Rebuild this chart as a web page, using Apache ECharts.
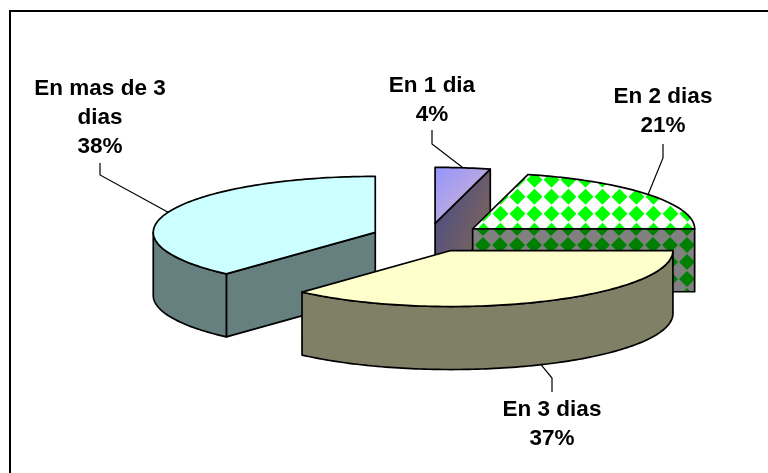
<!DOCTYPE html>
<html>
<head>
<meta charset="utf-8">
<style>html,body{margin:0;padding:0;background:#fff}#c{width:768px;height:473px}</style>
<script src="https://cdn.jsdelivr.net/npm/echarts@6/dist/echarts.min.js"></script>
</head>
<body>
<div id="c"></div>
<script>
var categories = ['En 1 dia', 'En 2 dias', 'En 3 dias', 'En mas de 3\ndias'];
var values = [4, 21, 36.7, 38.3];

// Layout of the 3D pie, separate from the data
var CX = 428, CY = 237.5, RX = 222, RY = 56, DEPTH = 63, EXPLODE = 56.5;
var FONT = 'bold 22.5px "Liberation Sans", Arial, sans-serif';
var LABEL_LINE = 29;
var labelCenters = [[432, 100], [663, 111], [552, 424.5], [100, 118]];
var leaderElbows = [[[432, 144], [432, 130]], [[663, 158], [663, 144]], [[552, 378], [552, 392]], [[100, 175], [100, 163]]];

function tile(bg, fg) {
  var S = 17, c = document.createElement('canvas');
  c.width = S; c.height = S;
  var g = c.getContext('2d');
  g.fillStyle = bg; g.fillRect(0, 0, S, S);
  g.fillStyle = fg;
  var ox = 7.5, oy = 9.7, d = 8;
  if (fg === '#008000') { oy = 7; ox = 7; }
  [[0,0],[-S,0],[0,-S],[S,0],[0,S]].forEach(function (o) {
    var x = ox + o[0], y = oy + o[1];
    g.beginPath(); g.moveTo(x - d, y); g.lineTo(x, y - d); g.lineTo(x + d, y); g.lineTo(x, y + d); g.closePath(); g.fill();
  });
  return c;
}
var topFills = [
  { type: 'linear', x: 0, y: 0, x2: 1, y2: 1, colorStops: [{ offset: 0, color: '#9494ff' }, { offset: 1, color: '#d6b8c8' }] },
  { image: tile('#ffffff', '#00ff00'), repeat: 'repeat' },
  '#ffffcc',
  '#ccffff'
];
var wallFills = [
  { type: 'linear', x: 0, y: 0.4, x2: 1, y2: 0.6, colorStops: [{ offset: 0, color: '#4f4f80' }, { offset: 1, color: '#80665a' }] },
  { image: tile('#808080', '#008000'), repeat: 'repeat' },
  '#808066',
  '#668080'
];

var total = values.reduce(function (a, b) { return a + b; }, 0);

function renderItem(params, api) {
  var i = params.dataIndex, before = 0;
  for (var k = 0; k < i; k++) before += values[k];
  var t1 = before / total * 2 * Math.PI;
  var t2 = (before + api.value(0)) / total * 2 * Math.PI;
  var mid = (t1 + t2) / 2;
  var ax = CX + EXPLODE * Math.sin(mid), ay = CY - EXPLODE * RY / RX * Math.cos(mid);
  function pt(t, dz) { return [ax + RX * Math.sin(t), ay - RY * Math.cos(t) + (dz || 0)]; }
  function arc(a, b, dz) {
    var out = [], n = Math.max(2, Math.ceil((b - a) / 0.02));
    for (var j = 0; j <= n; j++) out.push(pt(a + (b - a) * j / n, dz));
    return out;
  }
  var z = Math.round(ay);
  var kids = [];
  function poly(points, fill, zz) {
    kids.push({ type: 'polygon', shape: { points: points }, z2: zz,
      style: { fill: fill, stroke: '#000', lineWidth: 1.7, lineJoin: 'round' } });
  }
  function face(t) {
    var o = pt(t);
    poly([[ax, ay], o, [o[0], o[1] + DEPTH], [ax, ay + DEPTH]], wallFills[i], z);
  }
  if (t1 > Math.PI && t1 < 2 * Math.PI) face(t1);
  if (t2 > 0 && t2 < Math.PI) face(t2);
  var wa = Math.max(t1, Math.PI / 2), wb = Math.min(t2, 1.5 * Math.PI);
  if (wb > wa) {
    poly(arc(wa, wb, 0).concat(arc(wa, wb, DEPTH).reverse()), wallFills[i], z);
  }
  poly([[ax, ay]].concat(arc(t1, t2, 0)), topFills[i], z + 1);

  // Leader line, starting on the slice's outer edge at its mid angle
  var front = Math.cos(mid) < 0;
  var start = pt(mid, front ? DEPTH : 0);
  kids.push({ type: 'polyline', z2: front ? z + 2 : 0,
    shape: { points: [start].concat(leaderElbows[i]) },
    style: { fill: null, stroke: '#000', lineWidth: 1.2 } });
  var pct = Math.round(api.value(0) / total * 100) + '%';
  kids.push({ type: 'text', z2: 1000,
    style: { x: labelCenters[i][0], y: labelCenters[i][1], text: categories[i] + '\n' + pct,
      font: FONT, lineHeight: LABEL_LINE, align: 'center', verticalAlign: 'middle', fill: '#000' } });
  return { type: 'group', children: kids };
}

var chart = echarts.init(document.getElementById('c'), null, { renderer: 'canvas' });
chart.setOption({
  animation: false,
  backgroundColor: '#ffffff',
  graphic: [
    { type: 'polyline', shape: { points: [[10, 473], [10, 11], [768, 11]] },
      style: { fill: null, stroke: '#000', lineWidth: 2 }, silent: true }
  ],
  series: [{
    type: 'custom',
    coordinateSystem: 'none',
    renderItem: renderItem,
    data: values.map(function (v, i) { return { name: categories[i], value: [v] }; }),
    silent: true
  }]
});
</script>
</body>
</html>
